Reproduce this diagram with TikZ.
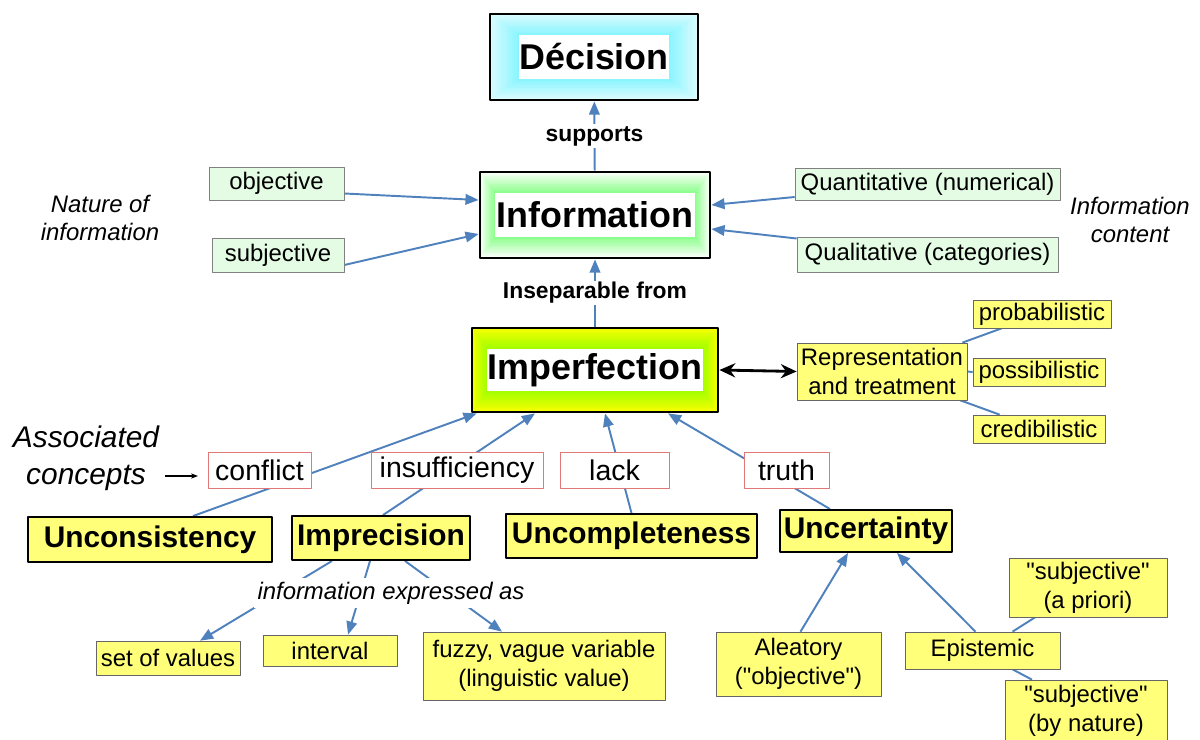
\documentclass[tikz,border=0pt]{standalone}
\usepackage{fontspec}
\setmainfont{Liberation Sans}
\usetikzlibrary{arrows.meta,backgrounds,calc}
\definecolor{linkblue}{HTML}{4F81BD}
\definecolor{notegreen}{HTML}{E4FBE4}
\definecolor{noteyellow}{HTML}{FFFF7A}
\definecolor{conceptred}{HTML}{E07878}
\definecolor{limegreen}{HTML}{99FF00}
\definecolor{glowyellow}{HTML}{F4FF00}
\definecolor{glowcyan}{HTML}{80F4FF}
\newcommand{\regsize}{\fontsize{13.6}{16.4}\selectfont}
\tikzset{
  glow/.style n args={4}{path picture={
    \foreach \k [evaluate=\k as \p using int(100-\k*8)] in {0,...,12}
      \fill[#1!\p!#2] ($(path picture bounding box.south west)+(\k*#3/12,-\k*#4/12)$) rectangle ($(path picture bounding box.north east)-(\k*#3/12,-\k*#4/12)$);
    \fill[white] ($(path picture bounding box.south west)+(#3,-#4)$) rectangle ($(path picture bounding box.north east)-(#3,-#4)$);
  }},
  headbox/.style={draw, line width=1.6pt, inner sep=0pt, font=\fontsize{20.4}{24}\selectfont\bfseries},
  kind/.style={draw=gray, fill=notegreen, inner sep=0pt, font=\regsize},
  facet/.style={draw=black, line width=1.1pt, fill=noteyellow, inner sep=0pt, font=\fontsize{17}{20}\selectfont\bfseries},
  concept/.style={draw=conceptred, fill=white, inner sep=0pt, font=\fontsize{16.2}{19}\selectfont},
  leaf/.style={draw=gray!80!black, fill=noteyellow, inner sep=0pt, align=center, font=\regsize},
  note/.style={align=center, font=\regsize\itshape},
  link/.style={linkblue, line width=1.1pt},
  tag/.style={fill=white, text=black, inner sep=1pt, font=\fontsize{13}{15}\selectfont\bfseries},
}
\begin{document}
\begin{tikzpicture}[x=0.02cm, y=-0.02cm, line join=round, >={Triangle[length=7.5pt,width=6pt]}]
 \useasboundingbox (0,0) rectangle (1200,740);
 % main chain
 \node[headbox, glow={glowcyan!30!white}{glowcyan}{29}{21}, minimum width=4.16cm, minimum height=1.72cm] (decision) at (594,57) {Décision};
 \node[headbox, glow={green!6!white}{green!50!white}{15}{21}, minimum width=4.6cm, minimum height=1.72cm] (info) at (595,215) {Information};
 \node[headbox, glow={glowyellow}{limegreen}{15}{21}, minimum width=4.92cm, minimum height=1.68cm] (imperf) at (595,370) {Imperfection};
 % nature and content of information
 \node[kind, minimum width=2.7cm, minimum height=0.66cm] (objective) at (276.5,183.5) {objective};
 \node[kind, minimum width=2.64cm, minimum height=0.68cm] (subjective) at (278,255) {subjective};
 \node[kind, minimum width=5.3cm, minimum height=0.64cm] (quanti) at (927.5,184) {Quantitative (numerical)};
 \node[kind, minimum width=5.22cm, minimum height=0.7cm] (quali) at (927.5,254.5) {Qualitative (categories)};
 \node[note] (nature) at (100,218) {Nature of\\information};
 \node[note] (content) at (1130,220) {Information\\content};
 % representation
 \node[leaf, minimum width=3.4cm, minimum height=1.14cm] (rep) at (882,371.5) {Representation\\and treatment};
 \node[leaf, minimum width=2.76cm, minimum height=0.56cm] (proba) at (1042,314) {probabilistic};
 \node[leaf, minimum width=2.64cm, minimum height=0.56cm] (possib) at (1039,372) {possibilistic};
 \node[leaf, minimum width=2.64cm, minimum height=0.56cm] (credib) at (1039,429) {credibilistic};
 % associated concepts
 \node[align=center, font=\fontsize{17}{21}\selectfont\itshape] (assoc) at (86,458) {Associated\\concepts};
 \coordinate (assoctip) at (198,476);
 \node[concept, minimum width=2.06cm, minimum height=0.72cm] (conflict) at (259.5,470) {conflict};
 \node[concept, minimum width=3.44cm, minimum height=0.72cm] (insuff) at (457,470) {insufficiency};
 \node[concept, minimum width=2.18cm, minimum height=0.72cm] (lack) at (614.5,470) {lack};
 \node[concept, minimum width=1.7cm, minimum height=0.72cm] (truth) at (786.5,470) {truth};
 % kinds of imperfection
 \node[facet, minimum width=4.88cm, minimum height=0.9cm] (uncons) at (150,539.5) {Unconsistency};
 \node[facet, minimum width=3.56cm, minimum height=0.88cm] (impre) at (381,538) {Imprecision};
 \node[facet, minimum width=5.02cm, minimum height=0.88cm] (uncomp) at (631.5,536) {Uncompleteness};
 \node[facet, minimum width=3.44cm, minimum height=0.84cm] (uncert) at (866,531) {Uncertainty};
 % imprecision
 \node[leaf, minimum width=2.88cm, minimum height=0.68cm] (setv) at (168,658) {set of values};
 \node[leaf, minimum width=2.68cm, minimum height=0.62cm] (interval) at (330,650.5) {interval};
 \node[leaf, minimum width=4.84cm, minimum height=1.36cm] (fuzzy) at (544,666) {fuzzy, vague variable\\(linguistic value)};
 \node[note, fill=white, inner sep=2pt] (expressed) at (391,593) {information expressed as};
 % uncertainty
 \node[leaf, minimum width=3.3cm, minimum height=1.28cm] (alea) at (798.5,664) {Aleatory\\(\textquotedbl objective\textquotedbl)};
 \node[leaf, minimum width=3.1cm, minimum height=0.74cm] (epis) at (982.5,650.5) {Epistemic};
 \node[leaf, minimum width=3.16cm, minimum height=1.18cm] (aprio) at (1088,587.5) {\textquotedbl subjective\textquotedbl\\(a priori)};
 \node[leaf, minimum width=3.24cm, minimum height=1.24cm] (bynat) at (1086,711) {\textquotedbl subjective\textquotedbl\\(by nature)};
 \begin{scope}[on background layer]
 \draw[link,->] (info) -- node[tag] (supports) {supports} (decision);
 \draw[link,->] (imperf) -- node[tag] (insep) {Inseparable from} (info);
 \draw[link,->] ([shift={(0,10)}]objective.east) -- ([shift={(0,-15)}]info.west);
 \draw[link,->] ([shift={(0,10)}]subjective.east) -- ([shift={(0,19)}]info.west);
 \draw[link,->] ([shift={(0,13)}]quanti.west) -- ([shift={(0,-10)}]info.east);
 \draw[link,->] ([shift={(0,-16)}]quali.west) -- ([shift={(0,14)}]info.east);
 \draw[{Stealth[length=9pt,width=8pt]}-{Stealth[length=9pt,width=8pt]}, line width=1.6pt] (imperf.east) -- (rep.west);
 \draw[link] ([shift={(-5,0)}]rep.north east) -- ([shift={(29,0)}]proba.south west);
 \draw[link] (rep.east) -- (possib.west);
 \draw[link] ([shift={(-7,0)}]rep.south east) -- ([shift={(27,0)}]credib.north west);
 \draw[-{Stealth[length=4pt]}, line width=0.6pt] (assoc.east |- assoctip) -- (assoctip);
 \draw[link,->] ([shift={(43,0)}]uncons.north) -- ([shift={(6,0)}]imperf.south west);
 \draw[link,->] ([shift={(2,0)}]impre.north) -- ([shift={(-60,0)}]imperf.south);
 \draw[link,->] (uncomp.north) -- ([shift={(10,0)}]imperf.south);
 \draw[link,->] ([shift={(-36,0)}]uncert.north) -- ([shift={(73,0)}]imperf.south);
 \draw[link,->] ([shift={(-49,0)}]impre.south) -- ([shift={(32,0)}]setv.north);
 \draw[link,->] ([shift={(-11,0)}]impre.south) -- ([shift={(18,0)}]interval.north);
 \draw[link,->] ([shift={(24,0)}]impre.south) -- ([shift={(-42,0)}]fuzzy.north);
 \draw[link,->] ([shift={(2,0)}]alea.north) -- ([shift={(-18,0)}]uncert.south);
 \draw[link,->] ([shift={(-7,0)}]epis.north) -- ([shift={(31,0)}]uncert.south);
 \draw[link] ([shift={(30,0)}]epis.north) -- ([shift={(-53,0)}]aprio.south);
 \draw[link] ([shift={(30,0)}]epis.south) -- ([shift={(-54,0)}]bynat.north);
 \end{scope}
\end{tikzpicture}
\end{document}
